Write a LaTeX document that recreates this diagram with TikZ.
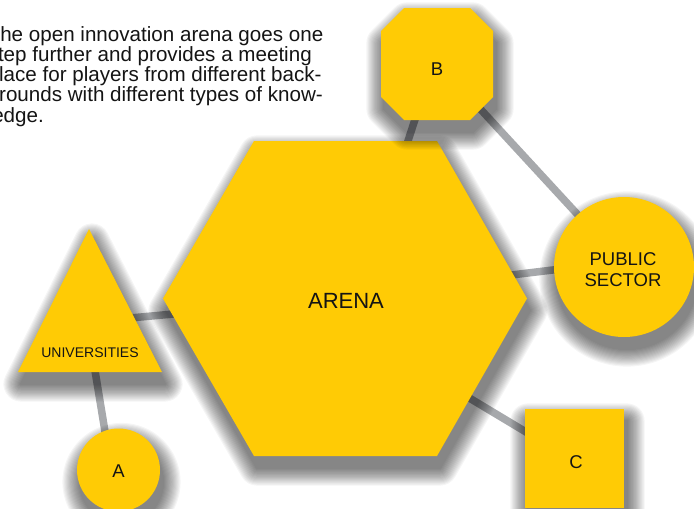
\documentclass[tikz,border=0pt]{standalone}
\usepackage{fontspec}
\setmainfont{Liberation Sans}
\usetikzlibrary{backgrounds,calc}
\definecolor{ylw}{HTML}{FFCB05}
\definecolor{conngray}{HTML}{A7A9AC}
\definecolor{txt}{HTML}{141414}
\newcommand\softshape[1]{%
  \begin{scope}[shift={(3,12)}]
    \foreach \i in {1,...,16} {%
      \begin{scope}[transparency group, opacity=0.04]
        \filldraw[black, line width=\i*2.2pt, line join=round] #1;
      \end{scope}}
  \end{scope}
  \fill[ylw] #1;}
\begin{document}
\begin{tikzpicture}[x=1pt,y=-1pt,
  lbl/.style={text=txt, inner sep=0pt, align=center},
  conn/.style={draw=conngray, line width=7.5pt}]
\useasboundingbox (0,0) rectangle (694,509);
\clip (0,0) rectangle (694,509);
% paragraph
\node[anchor=north west, inner sep=0pt, align=left, text=txt,
      font=\fontsize{20.6}{20.25}\selectfont] (para) at (-12.5,26)
  {The open innovation arena goes one\\step further and provides a meeting\\place for players from different back-\\grounds with different types of know-\\ledge.};
% shapes
\softshape{(254,141) -- (437,141) -- (527,298.5) -- (437,456) -- (254,456) -- (163,298.5) -- cycle}
\softshape{(89,229) -- (162,372) -- (18,372) -- cycle}
\softshape{(118.5,470) circle (41.5)}
\softshape{(404,8) -- (470,8) -- (493,31) -- (493,97) -- (470,120) -- (404,120) -- (381,97) -- (381,31) -- cycle}
\softshape{(624,267) circle (70)}
\softshape{(525,409) rectangle (624,508)}
% labels
\node[lbl, font=\fontsize{22}{24}\selectfont] (arena) at (346,301) {ARENA};
\node[lbl, font=\fontsize{14}{15}\selectfont] (uni) at (90,353) {UNIVERSITIES};
\node[lbl, font=\fontsize{18.5}{20}\selectfont] (a) at (118.5,471) {A};
\node[lbl, font=\fontsize{18.5}{20}\selectfont] (b) at (437,69) {B};
\node[lbl, font=\fontsize{18.5}{21}\selectfont] (pub) at (623,269.5) {PUBLIC\\SECTOR};
\node[lbl, font=\fontsize{18.5}{20}\selectfont] (c) at (576,462) {C};
\coordinate (uniC) at (87,322);
% connectors
\begin{pgfonlayer}{background}
\draw[conn] (uniC) -- ($(arena.center)+(0,-3)$);
\draw[conn] (uniC) -- ($(a.center)+(-7,0)$);
\draw[conn] ($(b.center)+(-4,-5)$) -- ($(arena.center)+(10,0)$);
\draw[conn] ($(b.center)+(0,-7)$) -- ($(pub.center)+(-3,-9)$);
\draw[conn] ($(pub.center)+(0,-8)$) -- ($(arena.center)+(0,-6)$);
\draw[conn] (c.center) -- ($(arena.center)+(0,23)$);
\end{pgfonlayer}
\end{tikzpicture}
\end{document}
